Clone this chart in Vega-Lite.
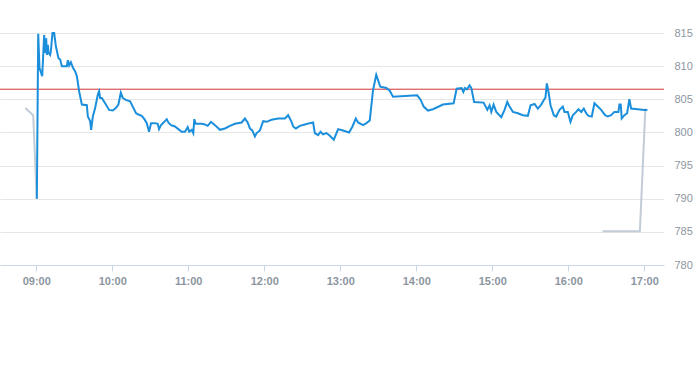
{
  "$schema": "https://vega.github.io/schema/vega-lite/v6.json",
  "autosize": {"type": "none"},
  "width": 664,
  "height": 232,
  "padding": {"top": 33, "left": 0, "right": 29, "bottom": 100},
  "background": "white",
  "config": {
    "view": {"stroke": null},
    "font": "Liberation Sans",
    "axis": {"labelFont": "Liberation Sans", "labelColor": "#8c96a0", "labelFontSize": 11},
    "axisY": {"labelOverlap": false, "labelBound": false, "labelPadding": 10, "ticks": false, "domain": false, "gridColor": "#e6e6e6"},
    "rule": {"color": "#d33333", "stroke": "#d33333"}
  },
  "datasets": {
    "main": [
      {"t": "2024-01-02T09:00:30", "v": 790.0},
      {"t": "2024-01-02T09:01:35", "v": 814.9},
      {"t": "2024-01-02T09:02:36", "v": 809.7},
      {"t": "2024-01-02T09:04:44", "v": 808.5},
      {"t": "2024-01-02T09:06:18", "v": 814.7},
      {"t": "2024-01-02T09:07:06", "v": 812.0},
      {"t": "2024-01-02T09:07:53", "v": 814.2},
      {"t": "2024-01-02T09:08:26", "v": 811.7},
      {"t": "2024-01-02T09:09:13", "v": 813.2},
      {"t": "2024-01-02T09:09:42", "v": 812.0},
      {"t": "2024-01-02T09:11:02", "v": 811.7},
      {"t": "2024-01-02T09:11:35", "v": 812.3},
      {"t": "2024-01-02T09:12:51", "v": 815.0},
      {"t": "2024-01-02T09:14:11", "v": 815.0},
      {"t": "2024-01-02T09:15:32", "v": 813.0},
      {"t": "2024-01-02T09:17:35", "v": 811.2},
      {"t": "2024-01-02T09:18:55", "v": 811.0},
      {"t": "2024-01-02T09:20:16", "v": 810.0},
      {"t": "2024-01-02T09:24:12", "v": 810.0},
      {"t": "2024-01-02T09:24:59", "v": 810.9},
      {"t": "2024-01-02T09:26:01", "v": 810.1},
      {"t": "2024-01-02T09:27:21", "v": 810.6},
      {"t": "2024-01-02T09:28:56", "v": 809.8},
      {"t": "2024-01-02T09:30:45", "v": 809.2},
      {"t": "2024-01-02T09:32:05", "v": 808.5},
      {"t": "2024-01-02T09:33:54", "v": 806.2},
      {"t": "2024-01-02T09:36:02", "v": 804.2},
      {"t": "2024-01-02T09:39:58", "v": 804.1},
      {"t": "2024-01-02T09:40:46", "v": 802.4},
      {"t": "2024-01-02T09:42:34", "v": 801.7},
      {"t": "2024-01-02T09:43:22", "v": 800.4},
      {"t": "2024-01-02T09:44:42", "v": 802.4},
      {"t": "2024-01-02T09:46:31", "v": 803.7},
      {"t": "2024-01-02T09:48:39", "v": 805.7},
      {"t": "2024-01-02T09:49:40", "v": 806.2},
      {"t": "2024-01-02T09:50:27", "v": 805.2},
      {"t": "2024-01-02T09:51:48", "v": 805.2},
      {"t": "2024-01-02T09:54:24", "v": 804.4},
      {"t": "2024-01-02T09:57:33", "v": 803.4},
      {"t": "2024-01-02T10:00:28", "v": 803.3},
      {"t": "2024-01-02T10:03:04", "v": 803.7},
      {"t": "2024-01-02T10:04:53", "v": 804.2},
      {"t": "2024-01-02T10:06:47", "v": 806.0},
      {"t": "2024-01-02T10:08:21", "v": 805.2},
      {"t": "2024-01-02T10:10:43", "v": 804.9},
      {"t": "2024-01-02T10:14:07", "v": 804.7},
      {"t": "2024-01-02T10:16:43", "v": 803.7},
      {"t": "2024-01-02T10:18:50", "v": 802.9},
      {"t": "2024-01-02T10:20:39", "v": 802.7},
      {"t": "2024-01-02T10:23:20", "v": 802.5},
      {"t": "2024-01-02T10:25:23", "v": 802.0},
      {"t": "2024-01-02T10:27:17", "v": 801.4},
      {"t": "2024-01-02T10:29:05", "v": 800.1},
      {"t": "2024-01-02T10:30:40", "v": 801.4},
      {"t": "2024-01-02T10:33:49", "v": 801.4},
      {"t": "2024-01-02T10:35:57", "v": 801.3},
      {"t": "2024-01-02T10:36:58", "v": 800.5},
      {"t": "2024-01-02T10:38:33", "v": 801.1},
      {"t": "2024-01-02T10:41:09", "v": 801.6},
      {"t": "2024-01-02T10:43:02", "v": 802.0},
      {"t": "2024-01-02T10:44:18", "v": 801.5},
      {"t": "2024-01-02T10:46:26", "v": 801.1},
      {"t": "2024-01-02T10:49:35", "v": 800.9},
      {"t": "2024-01-02T10:52:11", "v": 800.5},
      {"t": "2024-01-02T10:54:52", "v": 800.1},
      {"t": "2024-01-02T10:57:28", "v": 800.1},
      {"t": "2024-01-02T10:59:36", "v": 800.8},
      {"t": "2024-01-02T11:00:52", "v": 800.1},
      {"t": "2024-01-02T11:02:45", "v": 800.4},
      {"t": "2024-01-02T11:04:01", "v": 799.9},
      {"t": "2024-01-02T11:04:48", "v": 802.0},
      {"t": "2024-01-02T11:05:55", "v": 801.3},
      {"t": "2024-01-02T11:10:38", "v": 801.3},
      {"t": "2024-01-02T11:13:14", "v": 801.2},
      {"t": "2024-01-02T11:15:22", "v": 801.0},
      {"t": "2024-01-02T11:17:58", "v": 801.6},
      {"t": "2024-01-02T11:21:07", "v": 801.1},
      {"t": "2024-01-02T11:25:04", "v": 800.4},
      {"t": "2024-01-02T11:29:01", "v": 800.6},
      {"t": "2024-01-02T11:32:57", "v": 801.0},
      {"t": "2024-01-02T11:36:53", "v": 801.3},
      {"t": "2024-01-02T11:42:10", "v": 801.5},
      {"t": "2024-01-02T11:44:47", "v": 802.1},
      {"t": "2024-01-02T11:46:54", "v": 801.5},
      {"t": "2024-01-02T11:48:43", "v": 800.6},
      {"t": "2024-01-02T11:50:32", "v": 800.3},
      {"t": "2024-01-02T11:52:40", "v": 799.4},
      {"t": "2024-01-02T11:54:00", "v": 799.9},
      {"t": "2024-01-02T11:56:36", "v": 800.3},
      {"t": "2024-01-02T11:59:12", "v": 801.7},
      {"t": "2024-01-02T12:01:53", "v": 801.6},
      {"t": "2024-01-02T12:05:50", "v": 801.9},
      {"t": "2024-01-02T12:11:02", "v": 802.1},
      {"t": "2024-01-02T12:16:19", "v": 802.1},
      {"t": "2024-01-02T12:18:55", "v": 802.6},
      {"t": "2024-01-02T12:21:35", "v": 801.6},
      {"t": "2024-01-02T12:22:51", "v": 800.9},
      {"t": "2024-01-02T12:24:59", "v": 800.6},
      {"t": "2024-01-02T12:28:08", "v": 801.0},
      {"t": "2024-01-02T12:32:05", "v": 801.2},
      {"t": "2024-01-02T12:36:01", "v": 801.4},
      {"t": "2024-01-02T12:38:37", "v": 801.5},
      {"t": "2024-01-02T12:39:58", "v": 799.9},
      {"t": "2024-01-02T12:42:34", "v": 799.6},
      {"t": "2024-01-02T12:44:28", "v": 800.1},
      {"t": "2024-01-02T12:46:31", "v": 799.7},
      {"t": "2024-01-02T12:49:11", "v": 799.9},
      {"t": "2024-01-02T12:51:47", "v": 799.5},
      {"t": "2024-01-02T12:54:56", "v": 798.9},
      {"t": "2024-01-02T12:58:20", "v": 800.5},
      {"t": "2024-01-02T13:02:16", "v": 800.3},
      {"t": "2024-01-02T13:07:00", "v": 800.0},
      {"t": "2024-01-02T13:09:41", "v": 800.9},
      {"t": "2024-01-02T13:12:17", "v": 802.1},
      {"t": "2024-01-02T13:14:06", "v": 801.5},
      {"t": "2024-01-02T13:18:02", "v": 801.1},
      {"t": "2024-01-02T13:20:43", "v": 801.4},
      {"t": "2024-01-02T13:23:19", "v": 801.8},
      {"t": "2024-01-02T13:25:56", "v": 806.4},
      {"t": "2024-01-02T13:28:27", "v": 808.7},
      {"t": "2024-01-02T13:29:52", "v": 807.9},
      {"t": "2024-01-02T13:31:36", "v": 806.9},
      {"t": "2024-01-02T13:36:29", "v": 806.7},
      {"t": "2024-01-02T13:39:05", "v": 806.3},
      {"t": "2024-01-02T13:41:41", "v": 805.4},
      {"t": "2024-01-02T14:00:46", "v": 805.6},
      {"t": "2024-01-02T14:03:32", "v": 804.9},
      {"t": "2024-01-02T14:05:54", "v": 803.9},
      {"t": "2024-01-02T14:09:17", "v": 803.3},
      {"t": "2024-01-02T14:13:14", "v": 803.5},
      {"t": "2024-01-02T14:21:07", "v": 804.2},
      {"t": "2024-01-02T14:29:33", "v": 804.4},
      {"t": "2024-01-02T14:31:55", "v": 806.6},
      {"t": "2024-01-02T14:35:51", "v": 806.7},
      {"t": "2024-01-02T14:37:12", "v": 806.1},
      {"t": "2024-01-02T14:38:28", "v": 806.7},
      {"t": "2024-01-02T14:40:02", "v": 806.5},
      {"t": "2024-01-02T14:42:10", "v": 807.1},
      {"t": "2024-01-02T14:43:31", "v": 806.7},
      {"t": "2024-01-02T14:45:43", "v": 804.6},
      {"t": "2024-01-02T14:53:12", "v": 804.5},
      {"t": "2024-01-02T14:56:07", "v": 803.4},
      {"t": "2024-01-02T14:57:56", "v": 804.1},
      {"t": "2024-01-02T14:59:16", "v": 803.1},
      {"t": "2024-01-02T15:01:05", "v": 804.2},
      {"t": "2024-01-02T15:03:13", "v": 803.1},
      {"t": "2024-01-02T15:07:09", "v": 802.3},
      {"t": "2024-01-02T15:09:45", "v": 803.4},
      {"t": "2024-01-02T15:11:53", "v": 804.6},
      {"t": "2024-01-02T15:13:42", "v": 803.9},
      {"t": "2024-01-02T15:16:18", "v": 803.1},
      {"t": "2024-01-02T15:20:14", "v": 802.9},
      {"t": "2024-01-02T15:24:11", "v": 802.6},
      {"t": "2024-01-02T15:28:08", "v": 802.5},
      {"t": "2024-01-02T15:30:16", "v": 804.1},
      {"t": "2024-01-02T15:33:25", "v": 804.3},
      {"t": "2024-01-02T15:36:01", "v": 803.6},
      {"t": "2024-01-02T15:38:42", "v": 804.2},
      {"t": "2024-01-02T15:40:45", "v": 804.9},
      {"t": "2024-01-02T15:42:05", "v": 805.3},
      {"t": "2024-01-02T15:43:07", "v": 807.4},
      {"t": "2024-01-02T15:44:27", "v": 806.1},
      {"t": "2024-01-02T15:46:02", "v": 804.1},
      {"t": "2024-01-02T15:48:38", "v": 802.6},
      {"t": "2024-01-02T15:50:31", "v": 802.4},
      {"t": "2024-01-02T15:53:07", "v": 803.4},
      {"t": "2024-01-02T15:55:43", "v": 803.9},
      {"t": "2024-01-02T15:57:04", "v": 803.1},
      {"t": "2024-01-02T15:59:40", "v": 803.1},
      {"t": "2024-01-02T16:01:48", "v": 801.6},
      {"t": "2024-01-02T16:03:37", "v": 802.6},
      {"t": "2024-01-02T16:06:17", "v": 803.1},
      {"t": "2024-01-02T16:08:06", "v": 803.5},
      {"t": "2024-01-02T16:10:14", "v": 803.1},
      {"t": "2024-01-02T16:12:17", "v": 803.6},
      {"t": "2024-01-02T16:14:10", "v": 802.9},
      {"t": "2024-01-02T16:15:59", "v": 802.5},
      {"t": "2024-01-02T16:18:35", "v": 802.4},
      {"t": "2024-01-02T16:20:43", "v": 804.4},
      {"t": "2024-01-02T16:23:19", "v": 803.9},
      {"t": "2024-01-02T16:26:00", "v": 803.4},
      {"t": "2024-01-02T16:29:09", "v": 802.6},
      {"t": "2024-01-02T16:31:12", "v": 802.4},
      {"t": "2024-01-02T16:33:53", "v": 802.6},
      {"t": "2024-01-02T16:36:29", "v": 803.1},
      {"t": "2024-01-02T16:39:38", "v": 803.1},
      {"t": "2024-01-02T16:40:26", "v": 804.2},
      {"t": "2024-01-02T16:41:27", "v": 804.2},
      {"t": "2024-01-02T16:42:14", "v": 802.1},
      {"t": "2024-01-02T16:44:22", "v": 802.6},
      {"t": "2024-01-02T16:46:29", "v": 802.9},
      {"t": "2024-01-02T16:48:19", "v": 805.0},
      {"t": "2024-01-02T16:49:39", "v": 803.6},
      {"t": "2024-01-02T16:54:52", "v": 803.5},
      {"t": "2024-01-02T17:00:08", "v": 803.4},
      {"t": "2024-01-02T17:02:30", "v": 803.4}
    ],
    "ext": [
      {"t": "2024-01-02T08:51:20", "v": 803.7, "s": "pre"},
      {"t": "2024-01-02T08:57:38", "v": 802.6, "s": "pre"},
      {"t": "2024-01-02T09:00:24", "v": 790.0, "s": "pre"},
      {"t": "2024-01-02T16:27:01", "v": 785.1, "s": "post"},
      {"t": "2024-01-02T16:56:35", "v": 785.1, "s": "post"},
      {"t": "2024-01-02T17:00:55", "v": 803.6, "s": "post"}
    ],
    "ref": [{"v": 806.52}]
  },
  "layer": [
    {
      "data": {"name": "ext"},
      "mark": {"type": "line", "color": "#c2ccd6", "strokeWidth": 2},
      "encoding": {
        "x": {
          "field": "t", "type": "temporal", "title": null,
          "scale": {"domain": [
            {"year": 2024, "month": 1, "date": 2, "hours": 8, "minutes": 31, "seconds": 25},
            {"year": 2024, "month": 1, "date": 2, "hours": 17, "minutes": 15, "seconds": 37}
          ]},
          "axis": {
            "format": "%H:%M",
            "tickCount": "hour",
            "grid": false,
            "domainColor": "#ccd6eb",
            "tickColor": "#ccd6eb",
            "tickSize": 6,
            "labelPadding": 4,
            "labelFontWeight": "bold"
          }
        },
        "y": {
          "field": "v", "type": "quantitative", "title": null,
          "scale": {"domain": [780, 815], "nice": false, "zero": false},
          "axis": {"orient": "right", "values": [780, 785, 790, 795, 800, 805, 810, 815], "tickCount": 8, "grid": true}
        },
        "detail": {"field": "s"}
      }
    },
    {
      "data": {"name": "ref"},
      "mark": {"type": "rule", "color": "#d33333", "stroke": "#d33333", "strokeWidth": 1},
      "encoding": {
        "y": {
          "field": "v", "type": "quantitative", "title": null,
          "axis": {"orient": "right", "values": [780, 785, 790, 795, 800, 805, 810, 815], "tickCount": 8, "grid": true}
        }
      }
    },
    {
      "data": {"name": "main"},
      "mark": {"type": "line", "color": "#1b8fdc", "strokeWidth": 2},
      "encoding": {
        "x": {"field": "t", "type": "temporal", "title": null},
        "y": {
          "field": "v", "type": "quantitative", "title": null,
          "axis": {"orient": "right", "values": [780, 785, 790, 795, 800, 805, 810, 815], "tickCount": 8, "grid": true}
        }
      }
    }
  ]
}
